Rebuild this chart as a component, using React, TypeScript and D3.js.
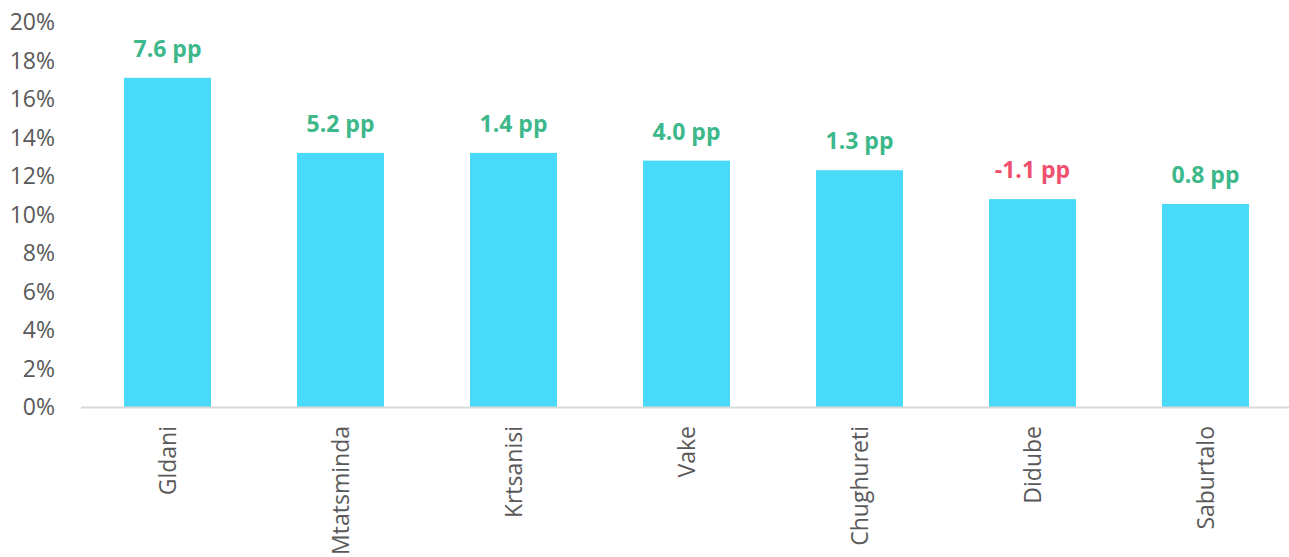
import React from "react";
import * as d3 from "d3";

const categories = ["Gldani", "Mtatsminda", "Krtsanisi", "Vake", "Chughureti", "Didube", "Saburtalo"];
const values = [17.1, 13.2, 13.2, 12.8, 12.3, 10.8, 10.55];
const changes = [7.6, 5.2, 1.4, 4.0, 1.3, -1.1, 0.8];
const yTicks = [0, 2, 4, 6, 8, 10, 12, 14, 16, 18, 20];

const W = 1289;
const H = 557;
const left = 81;
const right = 1292;
const top = 22;
const bottom = 407;

export default function App() {
  const x = d3.scaleBand<string>().domain(categories).range([left, right]).paddingInner(0.497).paddingOuter(0.2485);
  const y = d3.scaleLinear().domain([0, 20]).range([bottom, top]);
  const font = "'Open Sans', sans-serif";
  return (
    <svg width={W} height={H} style={{ position: "absolute", left: 0, top: 0 }}>
      {yTicks.map((t) => (
        <text key={t} x={55} y={y(t)} dy="0.35em" textAnchor="end" fontFamily={font} fontSize={23} fill="#595959">
          {t}%
        </text>
      ))}
      {categories.map((c, i) => (
        <g key={c}>
          <rect x={x(c)} y={y(values[i])} width={x.bandwidth()} height={y(0) - y(values[i])} fill="#4ADAF9" />
          <text
            x={(x(c) as number) + x.bandwidth() / 2}
            y={y(values[i]) - 21}
            textAnchor="middle"
            fontFamily={font}
            fontWeight="bold"
            fontSize={23}
            fill={changes[i] < 0 ? "#F0506E" : "#3DB88B"}
          >
            {changes[i].toFixed(1)} pp
          </text>
          <text
            transform={`translate(${(x(c) as number) + x.bandwidth() / 2},426) rotate(-90)`}
            dy="0.35em"
            textAnchor="end"
            fontFamily={font}
            fontSize={23}
            fill="#595959"
          >
            {c}
          </text>
        </g>
      ))}
      <line x1={left} x2={W} y1={y(0) + 0.5} y2={y(0) + 0.5} stroke="#D9D9D9" strokeWidth={2} />
    </svg>
  );
}
